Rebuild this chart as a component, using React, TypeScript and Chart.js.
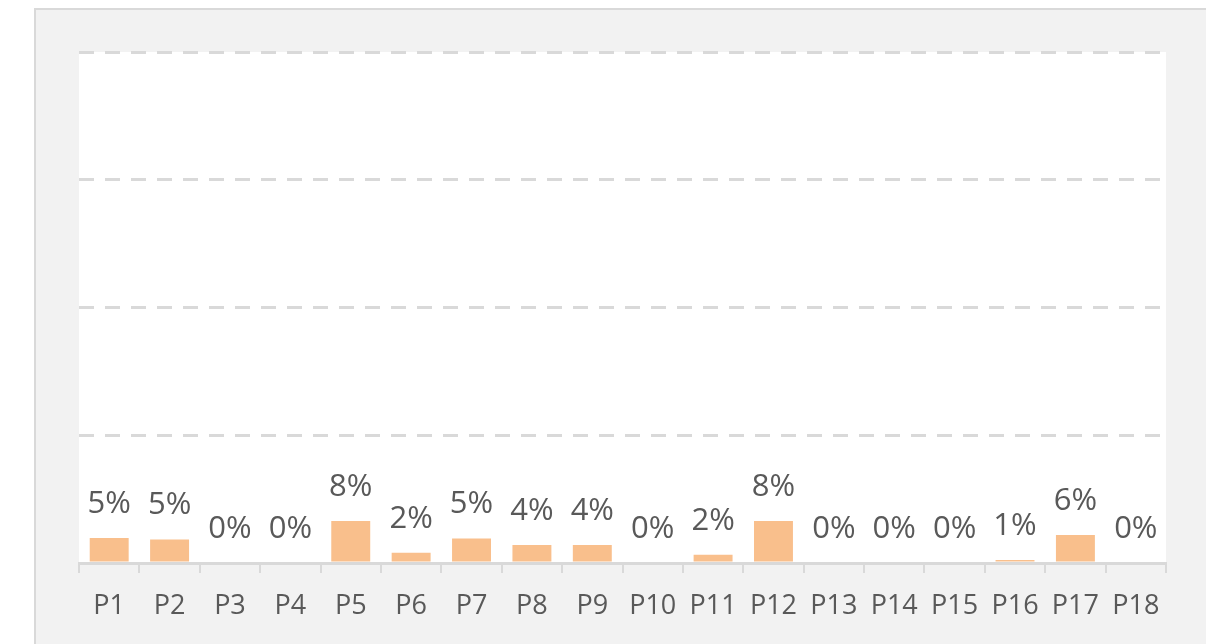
import React, { useEffect, useRef } from "react";
import { Chart, registerables } from "chart.js";

Chart.register(...registerables);

const categories = ["P1","P2","P3","P4","P5","P6","P7","P8","P9","P10","P11","P12","P13","P14","P15","P16","P17","P18"];
const shares = [4.9, 4.6, 0, 0, 8.2, 2.0, 4.8, 3.5, 3.5, 0, 1.6, 8.2, 0, 0, 0, 0.6, 5.5, 0];
const yTicks = [0, 25, 50, 75, 100];

const FONT = "'Open Sans', 'Noto Sans', sans-serif";
const TEXT = "#595959";
const GRID = "#d9d9d9";

const panelPlugin = {
  id: "panel",
  beforeDraw(chart: any) {
    const { ctx, chartArea } = chart;
    ctx.save();
    ctx.fillStyle = "#ffffff";
    ctx.fillRect(0, 0, chart.width, chart.height);
    ctx.fillStyle = GRID;
    ctx.fillRect(34, 8, chart.width, chart.height);
    ctx.fillStyle = "#f2f2f2";
    ctx.fillRect(36, 10, chart.width, chart.height);
    ctx.fillStyle = "#ffffff";
    ctx.fillRect(chartArea.left, chartArea.top, chartArea.right - chartArea.left, chartArea.bottom - chartArea.top);
    ctx.restore();
  },
};

const labelPlugin = {
  id: "barLabels",
  afterDatasetsDraw(chart: any) {
    const { ctx } = chart;
    const meta = chart.getDatasetMeta(0);
    const data = chart.data.datasets[0].data as number[];
    ctx.save();
    ctx.font = `31px ${FONT}`;
    ctx.fillStyle = TEXT;
    ctx.textAlign = "center";
    ctx.textBaseline = "alphabetic";
    meta.data.forEach((bar: any, i: number) => {
      ctx.fillText(`${Math.round(data[i])}%`, bar.x, bar.y - 25);
    });
    ctx.restore();
  },
};

export default function App() {
  const ref = useRef<HTMLCanvasElement>(null);
  useEffect(() => {
    if (!ref.current) return;
    const chart = new Chart(ref.current, {
      type: "bar",
      data: {
        labels: categories,
        datasets: [
          {
            data: shares,
            backgroundColor: "#f9bf8c",
            borderWidth: 0,
            categoryPercentage: 1,
            barPercentage: 0.645,
          },
        ],
      },
      options: {
        animation: false,
        responsive: false,
        maintainAspectRatio: false,
        layout: { padding: { left: 79, right: 40, top: 52, bottom: 0 } },
        plugins: { legend: { display: false }, tooltip: { enabled: false } },
        scales: {
          x: {
            offset: true,
            grid: {
              display: true,
              drawOnChartArea: false,
              drawTicks: true,
              tickLength: 10,
              color: GRID,
              lineWidth: 2,
            },
            border: { display: true, color: GRID, width: 3 },
            ticks: {
              color: TEXT,
              font: { family: FONT, size: 27 },
              padding: 17,
              maxRotation: 0,
              autoSkip: false,
            },
            afterFit(scale: any) {
              scale.height = 81;
            },
          },
          y: {
            min: 0,
            max: 100,
            afterBuildTicks(scale: any) {
              scale.ticks = yTicks.map((v) => ({ value: v }));
            },
            ticks: { display: false },
            grid: {
              color: (c: any) => (c.tick && c.tick.value === 0 ? "rgba(0,0,0,0)" : GRID),
              lineWidth: 3,
              drawTicks: false,
            },
            border: { display: false, dash: [15, 11] },
            afterFit(scale: any) {
              scale.width = 0;
            },
          },
        },
      },
      plugins: [panelPlugin, labelPlugin],
    });
    return () => chart.destroy();
  }, []);

  return (
    <div style={{ position: "fixed", left: 0, top: 0, width: 1206, height: 644, overflow: "hidden" }}>
      <canvas ref={ref} width={1206} height={644} style={{ display: "block", width: 1206, height: 644 }} />
    </div>
  );
}
